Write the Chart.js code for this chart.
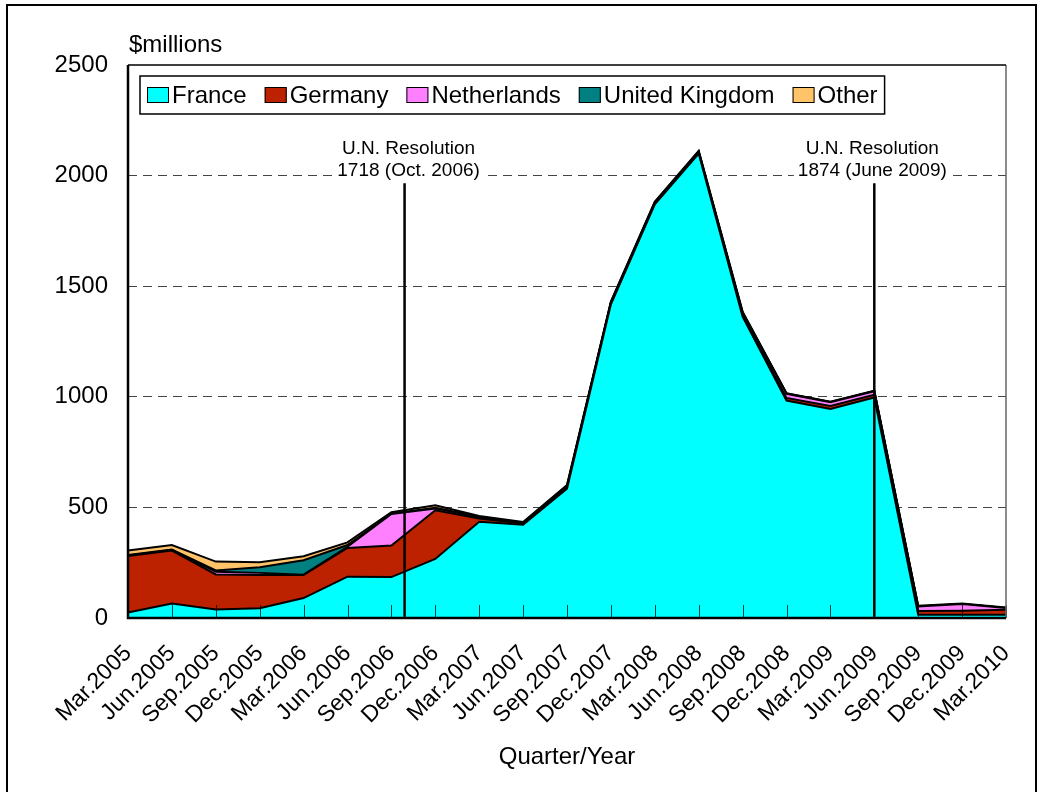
<!DOCTYPE html>
<html lang="en">
<head>
<meta charset="UTF-8">
<title>Arms exports by country</title>
<script src="https://cdn.jsdelivr.net/npm/chart.js"></script>
<style>
  body { margin: 0; background: #fff; }
  canvas { display: block; }
</style>
</head>
<body>
<canvas id="grafico" width="1042" height="792"></canvas>
<script>
const quarters = ['Mar.2005', 'Jun.2005', 'Sep.2005', 'Dec.2005', 'Mar.2006', 'Jun.2006', 'Sep.2006',
  'Dec.2006', 'Mar.2007', 'Jun.2007', 'Sep.2007', 'Dec.2007', 'Mar.2008', 'Jun.2008', 'Sep.2008',
  'Dec.2008', 'Mar.2009', 'Jun.2009', 'Sep.2009', 'Dec.2009', 'Mar.2010'];

const france      = [25, 65, 38, 44, 90, 187, 185, 267, 435, 422, 585, 1418, 1870, 2100, 1362, 983, 945, 997, 15, 15, 15];
const germany     = [255, 240, 159, 150, 104, 130, 143, 220, 15, 5, 5, 4, 4, 4, 6, 12, 13, 12, 17, 18, 22];
const netherlands = [3, 2, 12, 10, 2, 5, 142, 8, 6, 3, 3, 4, 4, 4, 12, 18, 18, 16, 20, 30, 8];
const uk          = [2, 2, 6, 25, 65, 8, 2, 3, 2, 1, 5, 2, 2, 2, 2, 2, 1, 1, 0, 0, 0];
const other       = [20, 21, 40, 23, 18, 12, 6, 12, 3, 3, 3, 2, 2, 2, 3, 1, 1, 1, 3, 3, 2];

const yTicks = [0, 500, 1000, 1500, 2000, 2500];

// resolution markers: position in quarter index, height of the line, label
const resolutions = [
  { at: 6.3, top: 1965, text: ['U.N. Resolution', '1718 (Oct. 2006)'], dx: 4 },
  { at: 17, top: 1965, text: ['U.N. Resolution', '1874 (June 2009)'], dx: -2 }
];

const FONT = '"Liberation Sans", Arial, sans-serif';

const series = [
  { label: 'France', data: france, color: '#00ffff' },
  { label: 'Germany', data: germany, color: '#bd2200' },
  { label: 'Netherlands', data: netherlands, color: '#ff80ff' },
  { label: 'United Kingdom', data: uk, color: '#008080' },
  { label: 'Other', data: other, color: '#ffc36a' }
];

const extras = {
  id: 'extras',
  beforeDraw(chart) {
    const ctx = chart.ctx;
    ctx.save();
    ctx.fillStyle = '#fff';
    ctx.fillRect(0, 0, chart.width, chart.height);
    ctx.strokeStyle = '#000';
    ctx.lineWidth = 2;
    ctx.strokeRect(7, 5, 1029, 820);
    ctx.restore();
  },
  afterDatasetsDraw(chart) {
    const { ctx, chartArea: a, scales: { x, y } } = chart;
    ctx.save();

    // small inward tick marks on the category axis
    ctx.strokeStyle = 'rgba(0,0,0,0.75)';
    ctx.lineWidth = 1;
    quarters.forEach((q, i) => {
      const px = Math.round(x.getPixelForValue(i)) + 0.5;
      ctx.beginPath();
      ctx.moveTo(px, a.bottom);
      ctx.lineTo(px, a.bottom - 13);
      ctx.stroke();
    });

    // plot frame
    ctx.strokeStyle = '#666';
    ctx.lineWidth = 1.5;
    ctx.beginPath();
    ctx.moveTo(a.right, a.top);
    ctx.lineTo(a.right, a.bottom);
    ctx.stroke();
    ctx.strokeStyle = '#000';
    ctx.beginPath();
    ctx.moveTo(a.left, a.top);
    ctx.lineTo(a.right, a.top);
    ctx.stroke();
    ctx.lineWidth = 2.5;
    ctx.beginPath();
    ctx.moveTo(a.left, a.top);
    ctx.lineTo(a.left, a.bottom);
    ctx.lineTo(a.right, a.bottom);
    ctx.stroke();

    // resolution markers
    resolutions.forEach(r => {
      const px = x.getPixelForValue(r.at);
      const top = y.getPixelForValue(r.top);
      ctx.strokeStyle = '#000';
      ctx.lineWidth = 2.5;
      ctx.beginPath();
      ctx.moveTo(px, top);
      ctx.lineTo(px, a.bottom);
      ctx.stroke();

      ctx.font = '19px ' + FONT;
      const w = Math.max(...r.text.map(t => ctx.measureText(t).width));
      const cx = px + r.dx;
      ctx.fillStyle = '#fff';
      ctx.fillRect(cx - w / 2 - 4, top - 48, w + 8, 42);
      ctx.fillStyle = '#000';
      ctx.textAlign = 'center';
      ctx.textBaseline = 'middle';
      r.text.forEach((t, i) => ctx.fillText(t, cx, top - 35 + i * 22));
    });

    // legend inside the plot
    ctx.font = '24px ' + FONT;
    ctx.textAlign = 'left';
    ctx.textBaseline = 'middle';
    let lx = 147;
    const ly = 95;
    const items = series.map(s => {
      const item = { s, x: lx };
      lx += 22 + 3 + ctx.measureText(s.label).width + 18;
      return item;
    });
    const right = lx - 18 + 7;
    ctx.fillStyle = '#fff';
    ctx.fillRect(140, 76, right - 140, 38);
    ctx.strokeStyle = '#000';
    ctx.lineWidth = 1.5;
    ctx.strokeRect(140, 76, right - 140, 38);
    items.forEach(it => {
      ctx.fillStyle = it.s.color;
      ctx.fillRect(it.x, ly - 8, 22, 16);
      ctx.lineWidth = 1;
      ctx.strokeRect(it.x + 0.5, ly - 7.5, 21, 15);
      ctx.fillStyle = '#000';
      ctx.fillText(it.s.label, it.x + 25, ly + 1);
    });

    // axis titles
    ctx.font = '24px ' + FONT;
    ctx.textAlign = 'left';
    ctx.fillText('$millions', 129, 45);
    ctx.textAlign = 'center';
    ctx.fillText('Quarter/Year', (a.left + a.right) / 2, 757);

    ctx.restore();
  }
};

new Chart(document.getElementById('grafico'), {
  type: 'line',
  data: {
    labels: quarters,
    datasets: series.map((s, i) => ({
      label: s.label,
      data: s.data,
      backgroundColor: s.color,
      borderColor: '#000',
      borderWidth: 2,
      pointRadius: 0,
      tension: 0,
      fill: i === 0 ? 'origin' : '-1'
    }))
  },
  options: {
    responsive: false,
    animation: false,
    layout: { padding: { left: 0, top: 65, right: 36, bottom: 0 } },
    plugins: { legend: { display: false }, tooltip: { enabled: false } },
    scales: {
      x: {
        offset: false,
        grid: { display: false, drawTicks: false },
        border: { display: false },
        ticks: {
          autoSkip: false,
          minRotation: 45,
          maxRotation: 45,
          padding: 22,
          color: '#000',
          font: { family: FONT, size: 23 }
        },
        afterFit(scale) {
          scale.height = 174;
          scale.paddingRight = 0;
          scale.paddingLeft = 0;
        }
      },
      y: {
        stacked: true,
        min: 0,
        max: 2500,
        afterBuildTicks(scale) { scale.ticks = yTicks.map(v => ({ value: v })); },
        grid: {
          drawTicks: false,
          color: c => (c.tick && (c.tick.value === 0 || c.tick.value === 2500)) ? 'transparent' : '#444',
          lineWidth: 1
        },
        border: { display: false, dash: [9, 6] },
        ticks: {
          padding: 20,
          color: '#000',
          font: { family: FONT, size: 24 },
          callback: v => String(v)
        },
        afterFit(scale) { scale.width = 128; }
      }
    }
  },
  plugins: [extras]
});
</script>
</body>
</html>
